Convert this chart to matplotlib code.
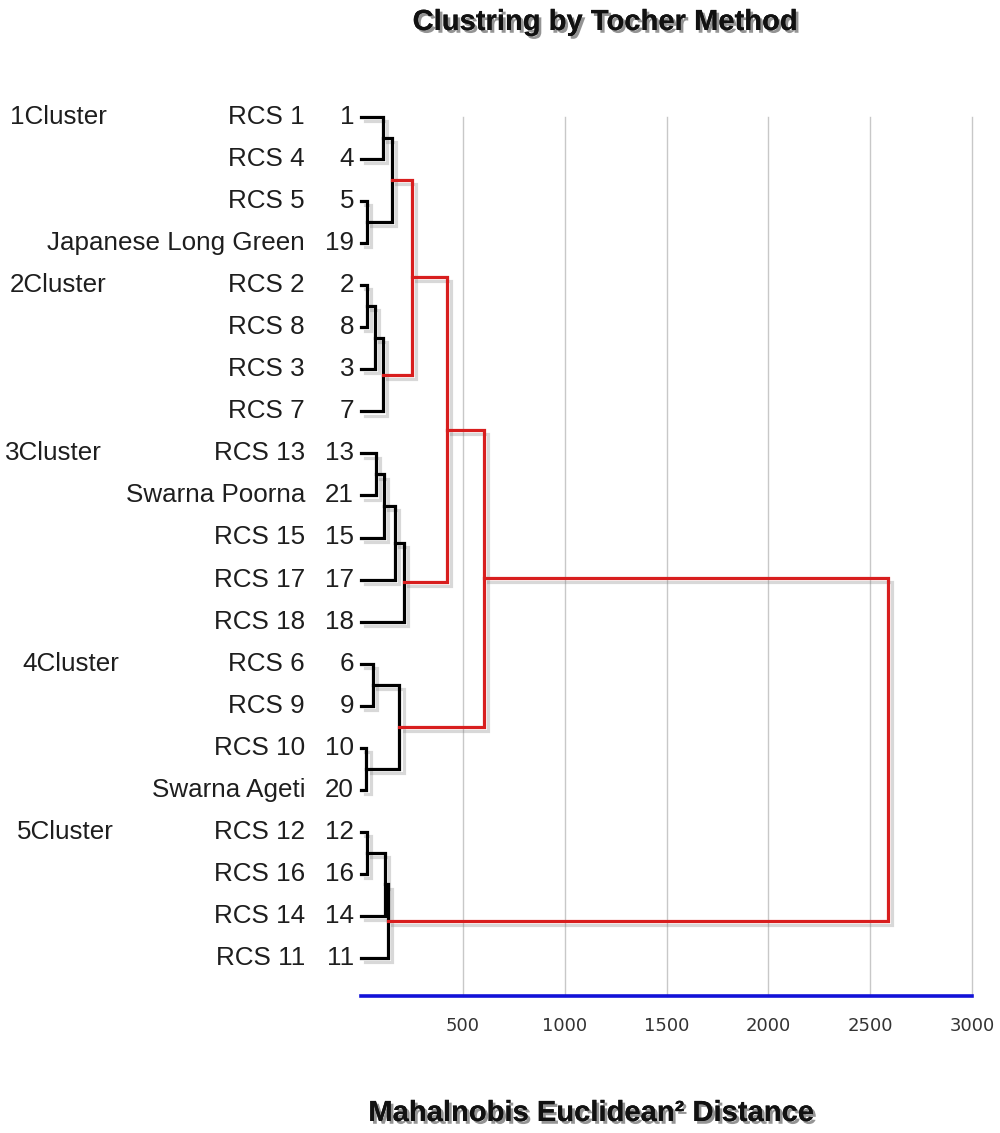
import matplotlib
matplotlib.use('Agg')
import matplotlib.pyplot as plt
import matplotlib.patheffects as pe
import matplotlib.transforms as mtransforms
from matplotlib import font_manager

# genotypes dans l'ordre du dendrogramme (haut -> bas)
noms = ['RCS 1', 'RCS 4', 'RCS 5', 'Japanese Long Green', 'RCS 2', 'RCS 8', 'RCS 3', 'RCS 7',
        'RCS 13', 'Swarna Poorna', 'RCS 15', 'RCS 17', 'RCS 18', 'RCS 6', 'RCS 9', 'RCS 10',
        'Swarna Ageti', 'RCS 12', 'RCS 16', 'RCS 14', 'RCS 11']
numeros = [1, 4, 5, 19, 2, 8, 3, 7, 13, 21, 15, 17, 18, 6, 9, 10, 20, 12, 16, 14, 11]
clusters = ['1Cluster', '2Cluster', '3Cluster', '4Cluster', '5Cluster']
debut_cluster = [0, 4, 8, 13, 17]

# fusions (gauche, droite, distance) ; les noeuds crees sont numerotes a partir de 21
fusions = [
    (0, 1, 108), (2, 3, 29), (21, 22, 150),
    (4, 5, 30), (24, 6, 69), (25, 7, 108),
    (23, 26, 250),
    (8, 9, 72), (28, 10, 112), (29, 11, 167), (30, 12, 210),
    (27, 31, 421),
    (13, 14, 59), (15, 16, 27), (33, 34, 189),
    (32, 35, 603),
    (17, 18, 29), (37, 19, 118), (38, 20, 132),
    (36, 39, 2588)]
graduations = [500, 1000, 1500, 2000, 2500, 3000]

titre = 'Clustring by Tocher Method'
xlabel = 'Mahalnobis Euclidean\u00b2 Distance'

dispo = {f.name for f in font_manager.fontManager.ttflist}
if 'Liberation Sans Narrow' in dispo:
    police_titre = 'Liberation Sans Narrow'
    taille_titre = 25
else:
    police_titre = 'Liberation Sans'
    taille_titre = 21

W, H = 1000, 1133
fig = plt.figure(figsize=(W / 100, H / 100), dpi=100)
ax = fig.add_axes([0.361, 1 - 996 / H, 0.611, (996 - 117) / H])

n = len(noms)
pos = {i: float(i) for i in range(n)}
haut = {i: 0.0 for i in range(n)}
feuilles = {i: {i} for i in range(n)}

def cluster_de(i):
    return sum(i >= d for d in debut_cluster) - 1

ombre = [pe.SimpleLineShadow(offset=(3, -3), shadow_color='0.5', alpha=0.3), pe.Normal()]

for k, (a, b, h) in enumerate(fusions):
    noeud = n + k
    pos[noeud] = (pos[a] + pos[b]) / 2
    haut[noeud] = h
    feuilles[noeud] = feuilles[a] | feuilles[b]
    nb_cl = len({cluster_de(f) for f in feuilles[noeud]})
    couleur = '#d81e1e' if nb_cl > 1 else 'black'
    ax.plot([haut[a], h, h, haut[b]], [pos[a], pos[a], pos[b], pos[b]],
            color=couleur, lw=2.3, clip_on=False, solid_joinstyle='miter',
            path_effects=ombre, zorder=3)

trans = mtransforms.blended_transform_factory(fig.transFigure, ax.transData)
for i in range(n):
    ax.text(0.305, i, noms[i], transform=trans, ha='right', va='center',
            fontsize=18.7, family='Liberation Sans', color='#1e1e1e')
    ax.text(0.354, i, str(numeros[i]), transform=trans, ha='right', va='center',
            fontsize=18.7, family='Liberation Sans', color='#1e1e1e')

decal = [0.010, 0.010, 0.005, 0.022, 0.017]
for c, d, dx in zip(clusters, debut_cluster, decal):
    ax.text(dx, d, c, transform=trans, ha='left', va='center',
            fontsize=18.7, family='Liberation Sans', color='#1e1e1e')

ax.set_xlim(0, 3000)
ax.set_ylim(20 + 38 / 42.05, 0)
ax.set_xticks(graduations)
ax.set_yticks([])
ax.grid(axis='x', color='#c8c8c8', lw=1)
for gl in ax.get_xgridlines():
    gl.set_clip_on(False)
ax.set_axisbelow(True)
for s in ['top', 'left', 'right']:
    ax.spines[s].set_visible(False)
ax.spines['bottom'].set_color('#1212d8')
ax.spines['bottom'].set_linewidth(2.6)
ax.tick_params(axis='x', length=0, pad=15, labelsize=13, labelcolor='#333333')

ombre_txt = [pe.withSimplePatchShadow(offset=(2, -2), shadow_rgbFace='0.3', alpha=0.6), pe.Normal()]
fig.text(0.605, 1 - 22 / H, titre, ha='center', va='center', fontsize=taille_titre,
         fontweight='bold', family=police_titre, color='#111111', path_effects=ombre_txt)
fig.text(0.591, 1 - 1113 / H, xlabel, ha='center', va='center', fontsize=taille_titre,
         fontweight='bold', family=police_titre, color='#111111', path_effects=ombre_txt)

fig.savefig('out.png', dpi=100, facecolor='white')
